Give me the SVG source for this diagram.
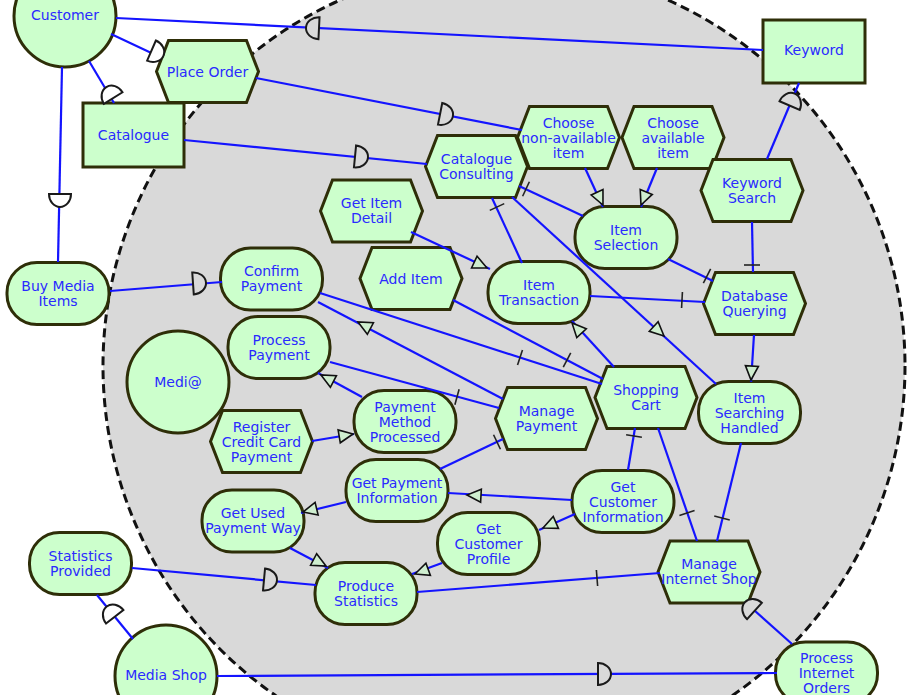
<svg xmlns="http://www.w3.org/2000/svg" width="908" height="695" viewBox="0 0 908 695">
  <style>
    .node { fill: #ccffcc; stroke: #2e2e08; stroke-width: 3; }
    .lbl { font-family: "DejaVu Sans", "Liberation Sans", Arial, sans-serif; font-size: 14px; fill: #2a2aff; text-anchor: middle; }
    .ln { stroke: #1414ff; stroke-width: 2.2; fill: none; }
    .d { stroke: #1a1a1a; stroke-width: 2; }
    .dw { fill: #ffffff; }
    .dg { fill: #d9d9d9; }
    .tri { fill: #cfeecf; stroke: #111; stroke-width: 1.6; }
    .tk { stroke: #222; stroke-width: 1.6; fill: none; }
  </style>
  <defs>
    <!-- task (hexagon), goal (rounded box) -->
    <path id="hex" d="M-51,0 L-39,-31 L39,-31 L51,0 L39,31 L-39,31 Z"/>
    <rect id="goal" x="-51" y="-31" width="102" height="62" rx="30" ry="30"/>
    <!-- dependency "D" mark, bulge points along +x -->
    <path id="dep" d="M-6,-11 V11 A13,11 0 0 0 -6,-11 Z"/>
    <!-- means-end open arrowhead, tip at origin -->
    <path id="tri" d="M0,0 L-14,-6.5 L-14,6.5 Z"/>
    <!-- decomposition tick -->
    <path id="tick" d="M0,-8 V8"/>
  </defs>

  <rect x="0" y="0" width="908" height="695" fill="#ffffff"/>

  <!-- actor boundary of Medi@ -->
  <circle id="boundary" cx="504" cy="366" r="401" fill="#d9d9d9" stroke="#111" stroke-width="3" stroke-dasharray="9 5"/>

  <!-- actors -->
  <g id="customer"><circle class="node" cx="65" cy="16" r="51"/><text class="lbl" x="65" y="20">Customer</text></g>
  <g id="medi"><circle class="node" cx="178" cy="382" r="51"/><text class="lbl" x="178" y="387">Medi@</text></g>
  <g id="media-shop"><circle class="node" cx="166" cy="676" r="51"/><text class="lbl" x="166" y="680">Media Shop</text></g>

  <!-- resources -->
  <g id="catalogue"><rect class="node" x="83" y="103" width="101" height="64"/><text class="lbl" x="133.5" y="139.5">Catalogue</text></g>
  <g id="keyword"><rect class="node" x="763" y="20" width="102" height="63"/><text class="lbl" x="814" y="55">Keyword</text></g>

  <!-- tasks -->
  <g id="place-order"><use class="node" href="#hex" transform="translate(207.5,71.5)"/><text class="lbl" x="207.5" y="76.5">Place Order</text></g>
  <g id="choose-na"><use class="node" href="#hex" transform="translate(568.5,137.5)"/><text class="lbl" x="568.5" y="127.5">Choose<tspan x="568.5" dy="15">non-available</tspan><tspan x="568.5" dy="15">item</tspan></text></g>
  <g id="choose-av"><use class="node" href="#hex" transform="translate(673,137.5)"/><text class="lbl" x="673" y="127.5">Choose<tspan x="673" dy="15">available</tspan><tspan x="673" dy="15">item</tspan></text></g>
  <g id="catalogue-consulting"><use class="node" href="#hex" transform="translate(476.5,166.5)"/><text class="lbl" x="476.5" y="163.5">Catalogue<tspan x="476.5" dy="15">Consulting</tspan></text></g>
  <g id="keyword-search"><use class="node" href="#hex" transform="translate(752,190.5)"/><text class="lbl" x="752" y="187.5">Keyword<tspan x="752" dy="15">Search</tspan></text></g>
  <g id="get-item-detail"><use class="node" href="#hex" transform="translate(371.5,211)"/><text class="lbl" x="371.5" y="208">Get Item<tspan x="371.5" dy="15">Detail</tspan></text></g>
  <g id="add-item"><use class="node" href="#hex" transform="translate(411,278.5)"/><text class="lbl" x="411" y="283.5">Add Item</text></g>
  <g id="database-querying"><use class="node" href="#hex" transform="translate(754.5,303.5)"/><text class="lbl" x="754.5" y="300.5">Database<tspan x="754.5" dy="15">Querying</tspan></text></g>
  <g id="shopping-cart"><use class="node" href="#hex" transform="translate(646,397.5)"/><text class="lbl" x="646" y="394.5">Shopping<tspan x="646" dy="15">Cart</tspan></text></g>
  <g id="manage-payment"><use class="node" href="#hex" transform="translate(546.5,418.5)"/><text class="lbl" x="546.5" y="415.5">Manage<tspan x="546.5" dy="15">Payment</tspan></text></g>
  <g id="register-cc"><use class="node" href="#hex" transform="translate(261.5,441.5)"/><text class="lbl" x="261.5" y="431.5">Register<tspan x="261.5" dy="15">Credit Card</tspan><tspan x="261.5" dy="15">Payment</tspan></text></g>
  <g id="manage-internet-shop"><use class="node" href="#hex" transform="translate(709,572)"/><text class="lbl" x="709" y="569">Manage<tspan x="709" dy="15">Internet Shop</tspan></text></g>

  <!-- goals -->
  <g id="buy-media-items"><use class="node" href="#goal" transform="translate(58,293.5)"/><text class="lbl" x="58" y="290.5">Buy Media<tspan x="58" dy="15">Items</tspan></text></g>
  <g id="statistics-provided"><use class="node" href="#goal" transform="translate(80.5,563.5)"/><text class="lbl" x="80.5" y="560.5">Statistics<tspan x="80.5" dy="15">Provided</tspan></text></g>
  <g id="confirm-payment"><use class="node" href="#goal" transform="translate(271.5,279)"/><text class="lbl" x="271.5" y="276">Confirm<tspan x="271.5" dy="15">Payment</tspan></text></g>
  <g id="process-payment"><use class="node" href="#goal" transform="translate(279,347.5)"/><text class="lbl" x="279" y="344.5">Process<tspan x="279" dy="15">Payment</tspan></text></g>
  <g id="payment-method-processed"><use class="node" href="#goal" transform="translate(405,421.5)"/><text class="lbl" x="405" y="411.5">Payment<tspan x="405" dy="15">Method</tspan><tspan x="405" dy="15">Processed</tspan></text></g>
  <g id="get-payment-information"><use class="node" href="#goal" transform="translate(397,490.5)"/><text class="lbl" x="397" y="487.5">Get Payment<tspan x="397" dy="15">Information</tspan></text></g>
  <g id="get-used-payment-way"><use class="node" href="#goal" transform="translate(253,521)"/><text class="lbl" x="253" y="518">Get Used<tspan x="253" dy="15">Payment Way</tspan></text></g>
  <g id="produce-statistics"><use class="node" href="#goal" transform="translate(366,593.5)"/><text class="lbl" x="366" y="590.5">Produce<tspan x="366" dy="15">Statistics</tspan></text></g>
  <g id="get-customer-profile"><use class="node" href="#goal" transform="translate(488.5,543.5)"/><text class="lbl" x="488.5" y="533.5">Get<tspan x="488.5" dy="15">Customer</tspan><tspan x="488.5" dy="15">Profile</tspan></text></g>
  <g id="get-customer-information"><use class="node" href="#goal" transform="translate(623,501.5)"/><text class="lbl" x="623" y="491.5">Get<tspan x="623" dy="15">Customer</tspan><tspan x="623" dy="15">Information</tspan></text></g>
  <g id="item-searching-handled"><use class="node" href="#goal" transform="translate(749.5,412.5)"/><text class="lbl" x="749.5" y="402.5">Item<tspan x="749.5" dy="15">Searching</tspan><tspan x="749.5" dy="15">Handled</tspan></text></g>
  <g id="item-transaction"><use class="node" href="#goal" transform="translate(539,292.5)"/><text class="lbl" x="539" y="289.5">Item<tspan x="539" dy="15">Transaction</tspan></text></g>
  <g id="item-selection"><use class="node" href="#goal" transform="translate(626,237.5)"/><text class="lbl" x="626" y="234.5">Item<tspan x="626" dy="15">Selection</tspan></text></g>
  <g id="process-internet-orders"><use class="node" href="#goal" transform="translate(826.5,673)"/><text class="lbl" x="826.5" y="663">Process<tspan x="826.5" dy="15">Internet</tspan><tspan x="826.5" dy="15">Orders</tspan></text></g>

  <!-- links -->
  <g id="connectors">
    <g class="ln">
      <path d="M116,18 L763,50"/>
      <path d="M111,34 L162,58"/>
      <path d="M89,61 L114,103"/>
      <path d="M62,67 L58,262"/>
      <path d="M110,291 L222,282"/>
      <path d="M256,78 L522,130"/>
      <path d="M184,140 L427,164"/>
      <path d="M799,83 L767,159"/>
      <path d="M133,639 L97,595"/>
      <path d="M132,568 L316,585"/>
      <path d="M217,676 L777,673"/>
      <path d="M792,644 L745,602"/>
      <path d="M519,186 L583,216"/>
      <path d="M492,198 L522,263"/>
      <path d="M512,197 L716,384"/>
      <path d="M585,168 L603,207"/>
      <path d="M657,168 L641,207"/>
      <path d="M668,259 L713,281"/>
      <path d="M590,296 L705,302"/>
      <path d="M752,222 L753,272"/>
      <path d="M754,335 L751,382"/>
      <path d="M411,232 L490,269"/>
      <path d="M453,300 L603,379"/>
      <path d="M320,293 L602,384"/>
      <path d="M318,302 L503,399"/>
      <path d="M330,362 L499,408"/>
      <path d="M362,397 L318,373"/>
      <path d="M312,441 L354,434"/>
      <path d="M440,469 L503,439"/>
      <path d="M614,367 L572,321"/>
      <path d="M635,428 L628,470"/>
      <path d="M658,428 L697,541"/>
      <path d="M741,443 L717,541"/>
      <path d="M572,500 L448,493"/>
      <path d="M575,514 L539,530"/>
      <path d="M346,502 L301,513"/>
      <path d="M290,548 L328,568"/>
      <path d="M442,563 L412,574"/>
      <path d="M417,592 L660,573"/>
    </g>
    <!-- dependency marks -->
    <use class="d dg" href="#dep" transform="translate(313,28) rotate(182.8)"/>
    <use class="d dw" href="#dep" transform="translate(157,53) rotate(23.5)"/>
    <use class="d dw" href="#dep" transform="translate(110,93) rotate(238)"/>
    <use class="d dw" href="#dep" transform="translate(60,200) rotate(90)"/>
    <use class="d dg" href="#dep" transform="translate(199,283) rotate(-4)"/>
    <use class="d dg" href="#dep" transform="translate(446,115) rotate(11.2)"/>
    <use class="d dg" href="#dep" transform="translate(361,157) rotate(5.6)"/>
    <use class="d dg" href="#dep" transform="translate(792,100) rotate(-67)"/>
    <use class="d dw" href="#dep" transform="translate(111,612) rotate(-128)"/>
    <use class="d dg" href="#dep" transform="translate(270,580) rotate(5.3)"/>
    <use class="d dg" href="#dep" transform="translate(604,674) rotate(0)"/>
    <use class="d dg" href="#dep" transform="translate(750,607) rotate(-138)"/>
    <!-- means-end arrowheads -->
    <use class="tri" href="#tri" transform="translate(664,336) rotate(42.7)"/>
    <use class="tri" href="#tri" transform="translate(603,205) rotate(65)"/>
    <use class="tri" href="#tri" transform="translate(641,205) rotate(112)"/>
    <use class="tri" href="#tri" transform="translate(751,380) rotate(93.7)"/>
    <use class="tri" href="#tri" transform="translate(487,268) rotate(25)"/>
    <use class="tri" href="#tri" transform="translate(358,322) rotate(-152.2)"/>
    <use class="tri" href="#tri" transform="translate(321,375) rotate(-152.4)"/>
    <use class="tri" href="#tri" transform="translate(353,434) rotate(-9.7)"/>
    <use class="tri" href="#tri" transform="translate(572,323) rotate(-133)"/>
    <use class="tri" href="#tri" transform="translate(467,495) rotate(183.2)"/>
    <use class="tri" href="#tri" transform="translate(543,528) rotate(156.6)"/>
    <use class="tri" href="#tri" transform="translate(303,512) rotate(166.5)"/>
    <use class="tri" href="#tri" transform="translate(326,566) rotate(27.8)"/>
    <use class="tri" href="#tri" transform="translate(415,574) rotate(160)"/>
    <!-- decomposition ticks -->
    <use class="tk" href="#tick" transform="translate(526,189) rotate(25)"/>
    <use class="tk" href="#tick" transform="translate(497,207) rotate(65)"/>
    <use class="tk" href="#tick" transform="translate(707,276) rotate(27)"/>
    <use class="tk" href="#tick" transform="translate(682,300) rotate(3)"/>
    <use class="tk" href="#tick" transform="translate(752,265) rotate(90)"/>
    <use class="tk" href="#tick" transform="translate(567,360) rotate(27.8)"/>
    <use class="tk" href="#tick" transform="translate(520,357.5) rotate(17.9)"/>
    <use class="tk" href="#tick" transform="translate(457,397) rotate(15.3)"/>
    <use class="tk" href="#tick" transform="translate(497,442) rotate(-25.5)"/>
    <use class="tk" href="#tick" transform="translate(634,436) rotate(99.5)"/>
    <use class="tk" href="#tick" transform="translate(687,513) rotate(71)"/>
    <use class="tk" href="#tick" transform="translate(722,518) rotate(103.8)"/>
    <use class="tk" href="#tick" transform="translate(597,578) rotate(-4.5)"/>
  </g>
</svg>
